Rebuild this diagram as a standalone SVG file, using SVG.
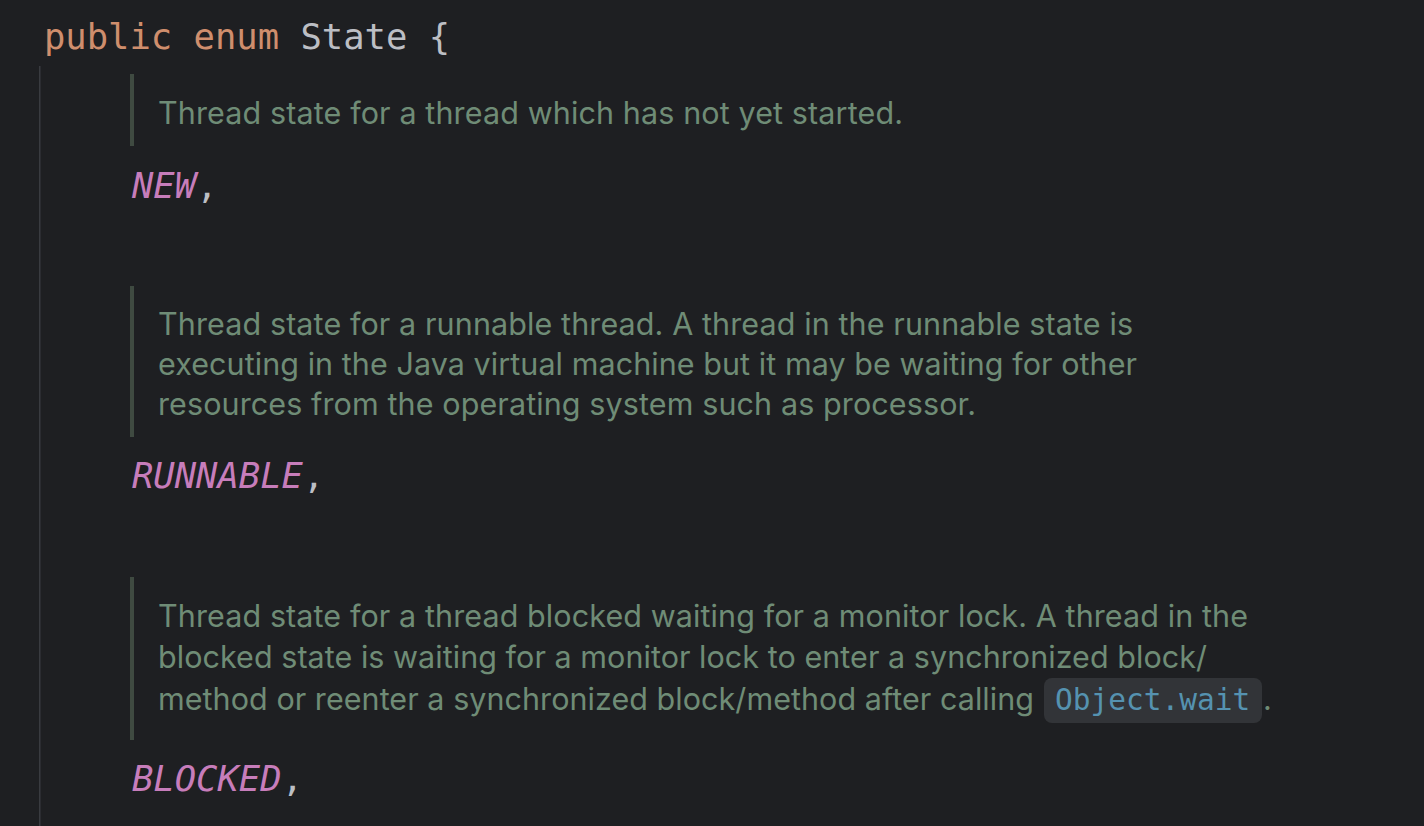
<svg xmlns="http://www.w3.org/2000/svg" width="1424" height="826" viewBox="0 0 1424 826">
<style>
.mono{font-family:"DejaVu Sans Mono","Liberation Mono",monospace;font-size:35.5px}
.kw{fill:#cf8e6d}
.plain{fill:#bcbec4}
.enum{fill:#c77dbb;font-style:italic}
.doc{font-family:Inter,"Noto Sans",sans-serif;font-size:30.5px;fill:#6f8c76}
.bar{fill:#3f4a41}
.code{font-family:"DejaVu Sans Mono","Liberation Mono",monospace;font-size:29.5px;fill:#5592b0}
</style>
<rect x="0" y="0" width="1424" height="826" fill="#1e1f22"/>
<rect x="39" y="66" width="1.5" height="760" fill="#393b40"/>
<text class="mono" x="44" y="49" xml:space="preserve"><tspan class="kw">public enum</tspan><tspan class="plain"> State {</tspan></text>
<g id="new">
<rect class="bar" x="130" y="74" width="4" height="72"/>
<text class="doc" x="158" y="124" textLength="745">Thread state for a thread which has not yet started.</text>
<text class="mono" x="132" y="198"><tspan class="enum">NEW</tspan><tspan class="plain">,</tspan></text>
</g>
<g id="runnable">
<rect class="bar" x="130" y="286" width="4" height="151"/>
<text class="doc" x="158" y="335" textLength="975">Thread state for a runnable thread. A thread in the runnable state is</text>
<text class="doc" x="158" y="375" textLength="979">executing in the Java virtual machine but it may be waiting for other</text>
<text class="doc" x="158" y="415" textLength="818">resources from the operating system such as processor.</text>
<text class="mono" x="132" y="488"><tspan class="enum">RUNNABLE</tspan><tspan class="plain">,</tspan></text>
</g>
<g id="blocked">
<rect class="bar" x="130" y="577" width="4" height="163"/>
<text class="doc" x="158" y="627" textLength="1090">Thread state for a thread blocked waiting for a monitor lock. A thread in the</text>
<text class="doc" x="158" y="668" textLength="1049">blocked state is waiting for a monitor lock to enter a synchronized block/</text>
<text class="doc" x="158" y="710" textLength="876">method or reenter a synchronized block/method after calling</text>
<rect x="1044" y="678" width="218" height="45" rx="8" fill="#323438"/>
<text class="code" x="1055" y="710">Object.wait</text>
<text class="doc" x="1263" y="710">.</text>
<text class="mono" x="132" y="791"><tspan class="enum">BLOCKED</tspan><tspan class="plain">,</tspan></text>
</g>
</svg>
